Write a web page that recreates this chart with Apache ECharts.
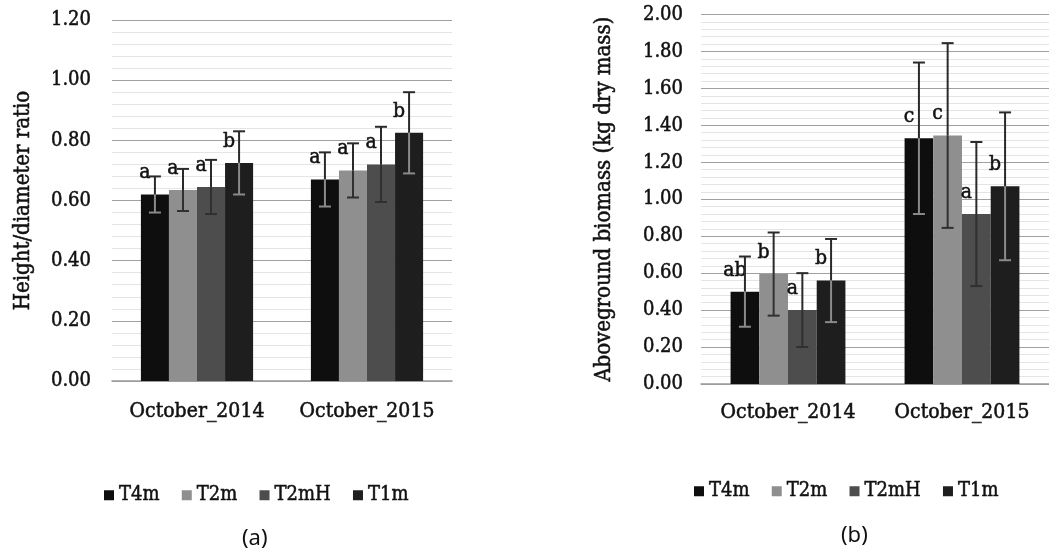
<!DOCTYPE html>
<html>
<head>
<meta charset="utf-8">
<script src="https://cdn.jsdelivr.net/npm/echarts@6/dist/echarts.min.js"></script>
<style>
  html, body { margin: 0; padding: 0; background: #fff; }
  #chart { width: 1049px; height: 555px; }
</style>
</head>
<body>
<div id="chart"></div>
<script>
// ---- data ----
const categories = ['October_2014', 'October_2015'];
const seriesNames = ['T4m', 'T2m', 'T2mH', 'T1m'];

// (a) Height/diameter ratio
const ratioT4m  = [0.62, 0.67];
const ratioT2m  = [0.635, 0.70];
const ratioT2mH = [0.645, 0.72];
const ratioT1m  = [0.725, 0.825];
const ratioErrT4m  = [0.06, 0.09];
const ratioErrT2m  = [0.07, 0.09];
const ratioErrT2mH = [0.09, 0.125];
const ratioErrT1m  = [0.105, 0.135];
const ratioLetT4m  = ['a', 'a'];
const ratioLetT2m  = ['a', 'a'];
const ratioLetT2mH = ['a', 'a'];
const ratioLetT1m  = ['b', 'b'];

// (b) Aboveground biomass (kg dry mass)
const bioT4m  = [0.50, 1.33];
const bioT2m  = [0.595, 1.345];
const bioT2mH = [0.40, 0.92];
const bioT1m  = [0.56, 1.07];
const bioErrT4m  = [0.19, 0.41];
const bioErrT2m  = [0.225, 0.50];
const bioErrT2mH = [0.20, 0.39];
const bioErrT1m  = [0.225, 0.40];
const bioLetT4m  = ['ab', 'c'];
const bioLetT2m  = ['b', 'c'];
const bioLetT2mH = ['a', 'a'];
const bioLetT1m  = ['b', 'b'];

// ---- styling ----
const barColors = ['#0e0e0e', '#8f8f8f', '#4d4d4d', '#1e1e1e'];
const SERIF = '"DejaVu Serif Condensed", "DejaVu Serif"';
const TXT = '#111111';
const HEAVY = { textBorderColor: TXT, textBorderWidth: 0.5 };
const GAP = 0.34;

const ratioVals = [ratioT4m, ratioT2m, ratioT2mH, ratioT1m];
const ratioErrs = [ratioErrT4m, ratioErrT2m, ratioErrT2mH, ratioErrT1m];
const ratioLets = [ratioLetT4m, ratioLetT2m, ratioLetT2mH, ratioLetT1m];
const bioVals = [bioT4m, bioT2m, bioT2mH, bioT1m];
const bioErrs = [bioErrT4m, bioErrT2m, bioErrT2mH, bioErrT1m];
const bioLets = [bioLetT4m, bioLetT2m, bioLetT2mH, bioLetT1m];

function errRender(params, api) {
  const cat = api.value(0), v = api.value(1), e = api.value(2), k = api.value(3);
  const band = api.size([1, 0])[0];
  const bw = band * (1 - GAP) / 4;
  const c = api.coord([cat, v]);
  const x = c[0] + (k - 1.5) * bw;
  const yV = c[1];
  const yT = api.coord([cat, v + e])[1];
  const yB = api.coord([cat, v - e])[1];
  const dark = '#2a2a2a';
  const inner = (k === 0 || k === 3) ? '#8a8a8a' : '#303030';
  const cap = 6;
  return {
    type: 'group',
    children: [
      { type: 'line', shape: { x1: x, y1: yV, x2: x, y2: yT }, style: { stroke: dark, lineWidth: 2 } },
      { type: 'line', shape: { x1: x, y1: yB, x2: x, y2: yV }, style: { stroke: inner, lineWidth: 2 } },
      { type: 'line', shape: { x1: x - cap, y1: yT, x2: x + cap, y2: yT }, style: { stroke: dark, lineWidth: 2 } },
      { type: 'line', shape: { x1: x - cap, y1: yB, x2: x + cap, y2: yB }, style: { stroke: inner, lineWidth: 2 } }
    ]
  };
}

function yAxisCfg(gridIndex, max, name, nameGap, margin) {
  return {
    type: 'value', gridIndex: gridIndex, min: 0, max: max, interval: 0.2,
    name: name, nameLocation: 'middle', nameGap: nameGap,
    nameTextStyle: Object.assign({ fontFamily: SERIF, fontSize: 22, color: TXT }, HEAVY),
    axisLine: { show: false }, axisTick: { show: false },
    axisLabel: Object.assign({ fontFamily: SERIF, fontSize: 20, color: TXT, margin: margin,
                 formatter: v => v.toFixed(2) }, HEAVY),
    splitLine: { show: true, lineStyle: { color: '#a0a0a0', width: 1 } },
    minorTick: { show: false, splitNumber: 5 },
    minorSplitLine: { show: true, lineStyle: { color: '#e4e4e4', width: 1 } }
  };
}

function xAxisCfg(gridIndex, margin) {
  return {
    type: 'category', gridIndex: gridIndex, data: categories,
    axisLine: { show: true, lineStyle: { color: '#9a9a9a', width: 1.5 } },
    axisTick: { show: false },
    axisLabel: Object.assign({ fontFamily: SERIF, fontSize: 21, color: TXT, margin: margin, interval: 0 }, HEAVY)
  };
}

const series = [];
function addChart(idx, vals, errs, lets) {
  seriesNames.forEach((nm, k) => {
    series.push({
      name: nm, type: 'bar', xAxisIndex: idx, yAxisIndex: idx,
      data: vals[k], barGap: '0%', barCategoryGap: (GAP * 100) + '%',
      itemStyle: { color: barColors[k] },
      label: Object.assign({
        show: true, position: 'top', distance: 11, offset: [-10, 0],
        fontFamily: SERIF, fontSize: 21, color: TXT,
        formatter: p => lets[k][p.dataIndex]
      }, HEAVY),
      z: 2
    });
  });
  seriesNames.forEach((nm, k) => {
    series.push({
      type: 'custom', xAxisIndex: idx, yAxisIndex: idx,
      renderItem: errRender,
      encode: { x: 0, y: 1 },
      data: vals[k].map((v, i) => [i, v, errs[k][i], k]),
      silent: true, z: 3
    });
  });
}
addChart(0, ratioVals, ratioErrs, ratioLets);
addChart(1, bioVals, bioErrs, bioLets);

const legendCommon = {
  data: seriesNames, itemWidth: 10, itemHeight: 10, itemGap: 22,
  icon: 'rect', selectedMode: false,
  textStyle: Object.assign({ fontFamily: SERIF, fontSize: 20, color: TXT }, HEAVY)
};

const chart = echarts.init(document.getElementById('chart'), null, { renderer: 'canvas' });
chart.setOption({
  backgroundColor: '#ffffff',
  animation: false,
  grid: [
    { left: 112, top: 20, width: 340, height: 361 },
    { left: 701, top: 14.5, width: 357, height: 369.5 }
  ],
  xAxis: [xAxisCfg(0, 20), xAxisCfg(1, 18)],
  yAxis: [
    yAxisCfg(0, 1.2, 'Height/diameter ratio', 78, 21),
    yAxisCfg(1, 2.0, 'Aboveground biomass (kg dry mass)', 86, 18)
  ],
  legend: [
    Object.assign({ left: 99, top: 480 }, legendCommon),
    Object.assign({ left: 689, top: 476 }, legendCommon)
  ],
  graphic: [
    { type: 'text', left: 242, top: 528, style: { text: '(a)', fontFamily: 'Noto Sans', fontSize: 22, fill: TXT } },
    { type: 'text', left: 841, top: 525, style: { text: '(b)', fontFamily: 'Noto Sans', fontSize: 22, fill: TXT } }
  ],
  series: series
});
</script>
</body>
</html>
